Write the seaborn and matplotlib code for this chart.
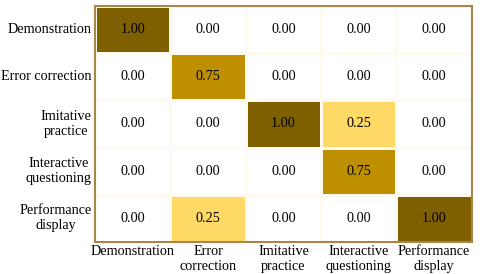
import numpy as np
import pandas as pd
import matplotlib
matplotlib.use("Agg")
import matplotlib.pyplot as plt
import seaborn as sns
from matplotlib.colors import LinearSegmentedColormap

rows = ["Demonstration", "Error correction", "Imitative\npractice",
        "Interactive\nquestioning", "Performance\ndisplay"]
cols = ["Demonstration", "Error\ncorrection", "Imitative\npractice",
        "Interactive\nquestioning", "Performance\ndisplay"]
values = [
    [1.00, 0.00, 0.00, 0.00, 0.00],
    [0.00, 0.75, 0.00, 0.00, 0.00],
    [0.00, 0.00, 1.00, 0.25, 0.00],
    [0.00, 0.00, 0.00, 0.75, 0.00],
    [0.00, 0.25, 0.00, 0.00, 1.00],
]

df = pd.DataFrame(values, index=rows, columns=cols)

cmap = LinearSegmentedColormap.from_list(
    "gold", [(0, "#ffffff"), (0.25, "#ffd966"), (0.75, "#bf9000"), (1.0, "#7f6000")])

plt.rcParams['font.family'] = ['Liberation Serif', 'DejaVu Serif']
fig = plt.figure(figsize=(4.8, 2.74), dpi=100)
ax = fig.add_axes([0.198, 0.117, 0.785, 0.861])
sns.heatmap(df, ax=ax, cmap=cmap, vmin=0, vmax=1, annot=True, fmt=".2f",
            annot_kws={"color": "black", "fontsize": 10.3},
            cbar=False, linewidths=0.8, linecolor="#fffaf0")
for s in ax.spines.values():
    s.set_visible(True)
    s.set_color("#a8864a")
    s.set_linewidth(1.5)
ax.tick_params(length=0, labelsize=10.2, pad=2.5)
plt.setp(ax.get_yticklabels(), rotation=0, multialignment="center")
plt.setp(ax.get_xticklabels(), rotation=0, multialignment="center")
ax.set_xlabel("")
ax.set_ylabel("")
fig.savefig("out.png", dpi=100)
